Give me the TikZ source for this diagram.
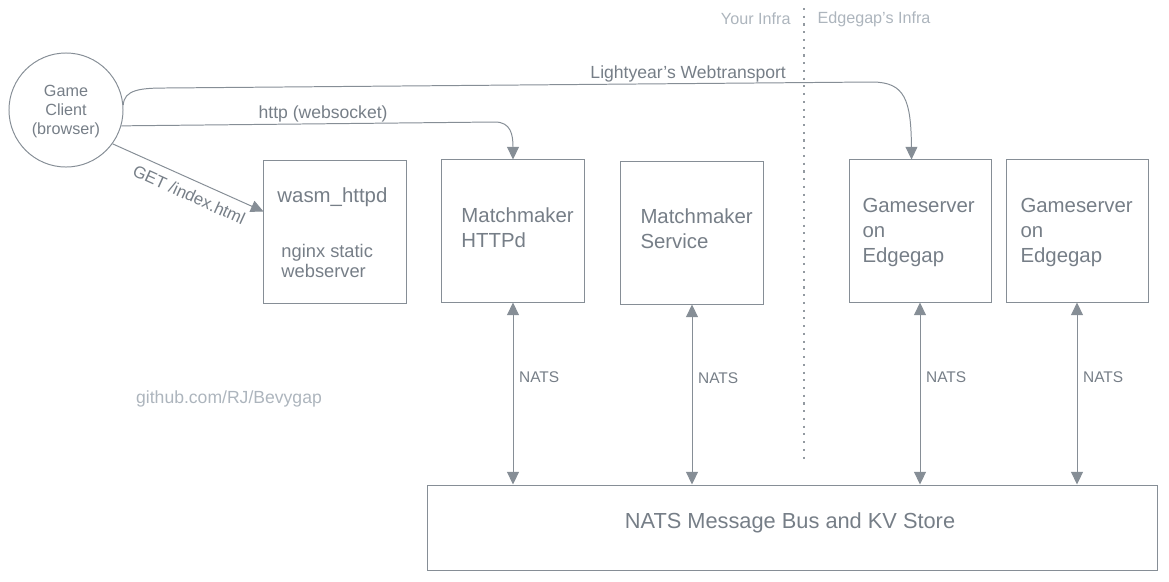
\documentclass[tikz,border=0pt]{standalone}
\usepackage{fontspec}
\setmainfont{Liberation Sans}
\usetikzlibrary{arrows.meta,positioning}
\definecolor{linegray}{HTML}{868E96}
\definecolor{textgray}{HTML}{767E87}
\definecolor{fadegray}{HTML}{ADB5BD}

\begin{document}
\begin{tikzpicture}
        [x=0.025cm,y=-0.025cm,line width=0.7pt,
         box/.style={draw=linegray,minimum width=3.55cm,minimum height=3.55cm,inner sep=0pt},
         txt/.style={text=textgray,font=\fontsize{14.5}{17.9}\selectfont,align=left,anchor=west,inner sep=0pt},
         lbl/.style={text=textgray,font=\fontsize{12.5}{15}\selectfont,inner sep=0.5pt},
         nats/.style={text=textgray,font=\fontsize{11}{13}\selectfont,inner sep=0pt},
         note/.style={text=fadegray,font=\fontsize{11.5}{14}\selectfont,inner sep=0pt},
         arr/.style={draw=linegray,-{Triangle[length=9pt,width=8.5pt]}},
         twoway/.style={draw=linegray,{Triangle[length=9pt,width=8.5pt]}-{Triangle[length=9pt,width=8.5pt]}}]
        \useasboundingbox (0,0) rectangle (1169,581);

        \node[circle,draw=linegray,minimum size=2.85cm,inner sep=0pt] (client) at (66,110) {};
        \node[text=textgray,align=center,inner sep=0pt,
              font=\fontsize{11.5}{13.5}\selectfont] (clientname) at (66,112) {Game\\Client\\(browser)};

        \node[box] (wasm) at (335,232) {};
        \node[box] (mmhttp) at (513,231) {};
        \node[box] (mmsvc) at (692,233) {};
        \node[box] (gs1) at (920,231) {};
        \node[box] (gs2) at (1077,231) {};
        \node[draw=linegray,minimum width=18.225cm,minimum height=2.125cm,inner sep=0pt] (bus) at (792.5,527.5) {};

        \node[txt] (wasmname) at (277,197) {wasm\_httpd};
        \node[txt,font=\fontsize{13}{14.2}\selectfont] (wasmnote) at (281,261) {nginx static\\webserver};
        \node[txt] (mmhttpname) at (461,227.5) {Matchmaker\\HTTPd};
        \node[txt] (mmsvcname) at (640,228.5) {Matchmaker\\Service};
        \node[txt] (gs1name) at (862,232.5) {Gameserver\\on\\Edgegap};
        \node[txt] (gs2name) at (1020,232.5) {Gameserver\\on\\Edgegap};
        \node[text=textgray,font=\fontsize{15.5}{18}\selectfont] (busname) at (790,523) {NATS Message Bus and KV Store};

        % infra split
        \coordinate (divtop) at (804,8);
        \coordinate (divbot) at (804,460);
        \draw[fadegray!85!black,line width=1pt,dash pattern=on 1.5pt off 4pt] (divtop) -- (divbot);
        \node[note,anchor=east] (yours) at (791,19) {Your Infra};
        \node[note,anchor=west] (theirs) at (817,19) {Edgegap's Infra};
        \node[note,font=\fontsize{12.5}{15}\selectfont] (repo) at (229,399) {github.com/RJ/Bevygap};

        \draw[arr] (client.-16) -- node[lbl,above,pos=.54] {http (websocket)} (495,122)
              .. controls (511,122) and (513,135) .. (mmhttp.north);
        \draw[arr] (client.5) .. controls (124,90) and (140,88) .. (165,88)
              -- node[lbl,above,pos=.74] {Lightyear's Webtransport} (872,82)
              .. controls (905,82) and (911,100) .. ([xshift=-6pt]gs1.north);
        \draw[arr] (client.-36) -- node[lbl,rotate=-24.4,anchor=north,inner sep=6pt,pos=.55,
              font=\fontsize{12}{14}\selectfont] {GET /index.html} (wasm.164);

        \foreach \srv in {mmhttp,mmsvc,gs1,gs2}
            \draw[twoway] (\srv.south) -- node[nats,pos=.41,right=4pt] {NATS} (\srv.south |- bus.north);

    \end{tikzpicture}
\end{document}
